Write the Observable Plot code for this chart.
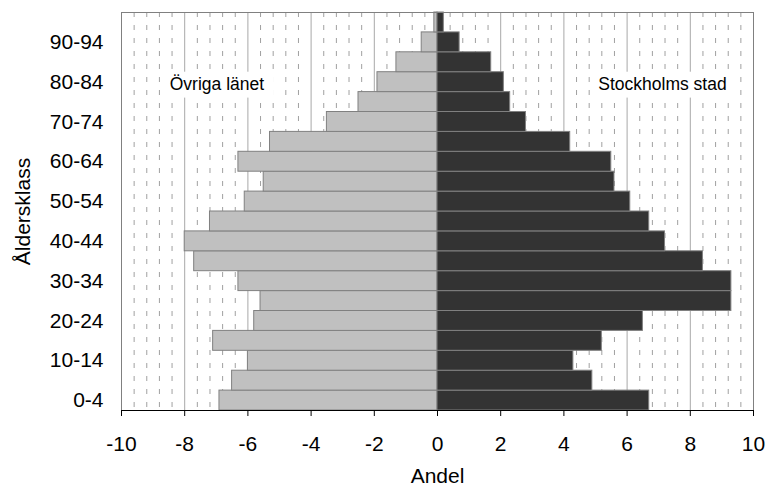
<!DOCTYPE html>
<html><head><meta charset="utf-8">
<script src="https://cdn.jsdelivr.net/npm/d3@7"></script>
<script src="https://cdn.jsdelivr.net/npm/@observablehq/plot@0.6"></script>
<style>body{margin:0;background:#fff}</style>
</head><body><div id="chart"></div>
<script>
const ageGroups = ["0-4","5-9","10-14","15-19","20-24","25-29","30-34","35-39","40-44","45-49","50-54","55-59","60-64","65-69","70-74","75-79","80-84","85-89","90-94","95+"];
const ovrigaLanet = [6.9, 6.5, 6.0, 7.1, 5.8, 5.6, 6.3, 7.7, 8.0, 7.2, 6.1, 5.5, 6.3, 5.3, 3.5, 2.5, 1.9, 1.3, 0.5, 0.1];
const stockholmsStad = [6.7, 4.9, 4.3, 5.2, 6.5, 9.3, 9.3, 8.4, 7.2, 6.7, 6.1, 5.6, 5.5, 4.2, 2.8, 2.3, 2.1, 1.7, 0.7, 0.2];
const seriesNames = ["Övriga länet", "Stockholms stad"];
const yTickLabels = ["0-4","10-14","20-24","30-34","40-44","50-54","60-64","70-74","80-84","90-94"];
const xTicks = [-10, -8, -6, -4, -2, 0, 2, 4, 6, 8, 10];
const minorStep = 0.4;
const labelNotes = [
  {name: "Övriga länet", x: -6.98, x1: -8.7, x2: -5.16, age: "80-84"},
  {name: "Stockholms stad", x: 7.12, x1: 4.94, x2: 9.46, age: "80-84"}
];

const rows = ageGroups.flatMap((g, i) => [
  {age: g, serie: seriesNames[0], value: -ovrigaLanet[i]},
  {age: g, serie: seriesNames[1], value: stockholmsStad[i]}
]);
const minorTicks = d3.range(-25, 26).filter(k => k % 5 !== 0).map(k => +(k * minorStep).toFixed(2));

const chart = Plot.plot({
  width: 768, height: 486,
  marginLeft: 121, marginRight: 15, marginTop: 12, marginBottom: 76,
  style: {fontFamily: "'Liberation Sans', Arial, sans-serif", fontSize: "21px", color: "#000", background: "#fff"},
  x: {domain: [-10, 10]},
  y: {domain: ageGroups.slice().reverse(), padding: 0, round: false},
  color: {domain: seriesNames, range: ["#c0c0c0", "#333333"]},
  marks: [
    Plot.ruleX(minorTicks, {stroke: "#a0a0a0", strokeDasharray: "5,8"}),
    Plot.ruleX(xTicks, {stroke: "#a8a8a8"}),
    Plot.barX(labelNotes, {x1: "x1", x2: "x2", y: "age", fill: "white", insetBottom: -6}),
    Plot.barX(rows, {x: "value", y: "age", fill: "serie", stroke: "#808080", strokeWidth: 1}),
    Plot.text(labelNotes, {x: "x", y: "age", text: "name", fontSize: 17.5, dy: 2, fill: "#000"}),
    Plot.frame({stroke: "#808080"}),
    Plot.frame({anchor: "bottom", stroke: "#000"}),
    Plot.axisX({ticks: xTicks, tickFormat: d => String(d), tickSize: 6, tickPadding: 20, stroke: "#000", label: "Andel", labelArrow: "none", labelAnchor: "center", labelOffset: 72}),
    Plot.axisY({ticks: yTickLabels, tickSize: 0, tickPadding: 18, label: "Åldersklass", labelArrow: "none", labelAnchor: "center", labelOffset: 106})
  ]
});
document.getElementById("chart").appendChild(chart);
</script>
</body></html>
